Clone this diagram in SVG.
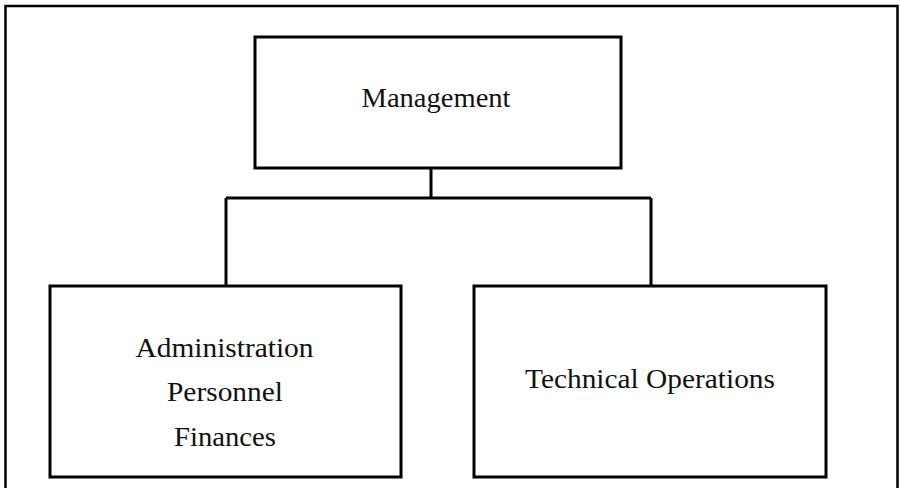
<svg xmlns="http://www.w3.org/2000/svg" width="900" height="488" viewBox="0 0 900 488">
  <style>
    .box { fill: #ffffff; stroke: #000000; stroke-width: 3; }
    .frame { fill: none; stroke: #000000; stroke-width: 2.5; }
    .link { fill: none; stroke: #000000; stroke-width: 3; }
    .label { font-family: "Liberation Serif", "DejaVu Serif", serif; font-size: 28px; fill: #111111; text-anchor: middle; }
  </style>
  <rect width="900" height="488" fill="#ffffff"/>
  <!-- outer frame, open at the bottom edge of the page -->
  <path class="frame" d="M5.5 492 V6 H897.5 V492"/>

  <g id="connectors">
    <path class="link" d="M431 168 V198"/>
    <path class="link" d="M226 198 H651"/>
    <path class="link" d="M226 198 V286"/>
    <path class="link" d="M651 198 V286"/>
  </g>

  <g id="management">
    <rect class="box" x="255" y="37" width="366" height="131"/>
    <text class="label" x="436" y="107" textLength="149" lengthAdjust="spacingAndGlyphs">Management</text>
  </g>

  <g id="administration">
    <rect class="box" x="50" y="286" width="351" height="191"/>
    <text class="label" x="224.5" y="357" textLength="178" lengthAdjust="spacingAndGlyphs">Administration</text>
    <text class="label" x="225" y="401" textLength="116" lengthAdjust="spacingAndGlyphs">Personnel</text>
    <text class="label" x="225" y="446" textLength="102" lengthAdjust="spacingAndGlyphs">Finances</text>
  </g>

  <g id="technical">
    <rect class="box" x="474" y="286" width="352" height="191"/>
    <text class="label" x="650" y="388" textLength="250" lengthAdjust="spacingAndGlyphs">Technical Operations</text>
  </g>
</svg>
